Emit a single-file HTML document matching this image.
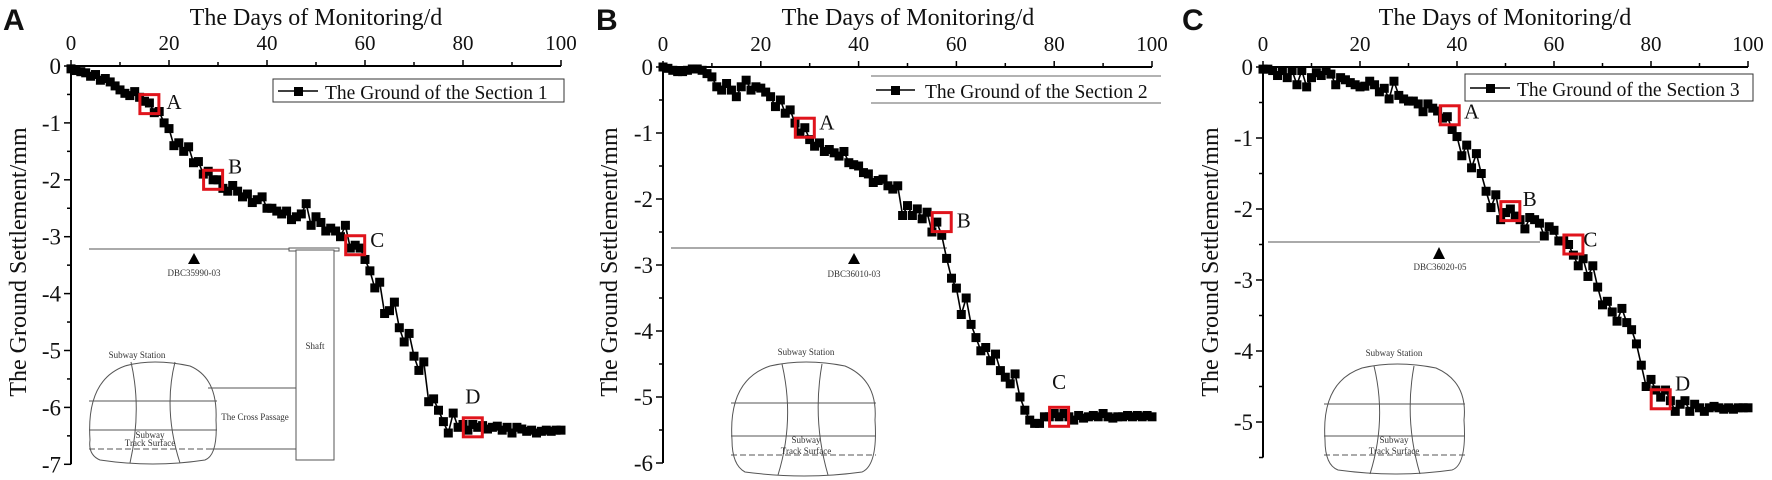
<!DOCTYPE html>
<html><head><meta charset="utf-8">
<style>
html,body{margin:0;padding:0;background:#fff;}
svg{display:block;}
text{font-family:"Liberation Serif",serif;fill:#111;}
.pl{font-family:"Liberation Sans",sans-serif;font-weight:bold;font-size:30px;}
.tt{font-size:24px;}
.sm{font-size:9px;fill:#333;}
</style></head><body>
<svg id="s" width="1772" height="480" viewBox="0 0 1772 480" xmlns="http://www.w3.org/2000/svg">
<text class="pl" x="3" y="30">A</text>
<text class="pl" x="596" y="30">B</text>
<text class="pl" x="1182" y="30">C</text>
<text class="tt" x="316" y="25" text-anchor="middle">The Days of Monitoring/d</text>
<text class="tt" x="908" y="25" text-anchor="middle">The Days of Monitoring/d</text>
<text class="tt" x="1505" y="25" text-anchor="middle">The Days of Monitoring/d</text>
<text class="tt" transform="translate(26,262) rotate(-90)" text-anchor="middle">The Ground Settlement/mm</text>
<text class="tt" transform="translate(617,262) rotate(-90)" text-anchor="middle">The Ground Settlement/mm</text>
<text class="tt" transform="translate(1218,262) rotate(-90)" text-anchor="middle">The Ground Settlement/mm</text>

<!-- legends -->
<rect x="273" y="79" width="291" height="23" fill="#fff" stroke="#333" stroke-width="1"/>
<line x1="278" y1="91" x2="318" y2="91" stroke="#000" stroke-width="1.5"/><rect x="294" y="87" width="9" height="9" fill="#000"/>
<text x="325" y="99" font-size="19.5">The Ground of the Section 1</text>
<line x1="871" y1="76" x2="1161" y2="76" stroke="#666"/><line x1="871" y1="103" x2="1161" y2="103" stroke="#666"/>
<line x1="876" y1="90" x2="915" y2="90" stroke="#000" stroke-width="1.5"/><rect x="891" y="86" width="9" height="9" fill="#000"/>
<text x="925" y="98" font-size="19.5">The Ground of the Section 2</text>
<rect x="1465" y="74" width="288" height="27" fill="#fff" stroke="#333" stroke-width="1"/>
<line x1="1470" y1="88" x2="1510" y2="88" stroke="#000" stroke-width="1.5"/><rect x="1486" y="84" width="9" height="9" fill="#000"/>
<text x="1517" y="96" font-size="19.5">The Ground of the Section 3</text>

<!-- inset A -->
<g stroke="#555" fill="none" stroke-width="1">
<line x1="89" y1="249" x2="339" y2="249"/>
<rect x="289" y="248" width="50" height="3" fill="#fff"/>
<rect x="296" y="250" width="38" height="210" fill="#fff"/>
<path d="M90 440 Q86 380 125 366 Q153 358 190 366 Q218 378 216 420 Q218 455 205 460 Q153 468 100 460 Q88 455 90 440Z"/>
<path d="M131 362 Q142 410 130 463 M175 362 Q163 410 180 463"/>
<line x1="89" y1="401" x2="217" y2="401"/><line x1="89" y1="430" x2="217" y2="430"/>
<line x1="89" y1="449" x2="217" y2="449" stroke-dasharray="6,3"/>
<line x1="208" y1="388" x2="296" y2="388"/><line x1="208" y1="449" x2="296" y2="449"/>
</g>
<polygon points="188,264 200,264 194,253" fill="#000"/>
<text class="sm" x="194" y="276" text-anchor="middle" font-size="10">DBC35990-03</text>
<text class="sm" x="137" y="358" text-anchor="middle" font-size="10">Subway Station</text>
<text class="sm" x="315" y="349" text-anchor="middle" font-size="10">Shaft</text>
<text class="sm" x="255" y="420" text-anchor="middle" font-size="10">The Cross Passage</text>
<text class="sm" x="150" y="438" text-anchor="middle" font-size="6">Subway</text>
<text class="sm" x="150" y="446" text-anchor="middle" font-size="6">Track Surface</text>

<!-- inset B -->
<g stroke="#555" fill="none" stroke-width="1">
<line x1="671" y1="248" x2="947" y2="248"/>
<path d="M732 440 Q728 380 770 366 Q805 358 845 366 Q878 380 875 420 Q878 465 862 472 Q805 480 745 472 Q732 465 732 440Z"/>
<path d="M782 364 Q795 420 778 475 M822 364 Q812 420 828 475"/>
<line x1="731" y1="403" x2="876" y2="403"/><line x1="731" y1="436" x2="876" y2="436"/>
<line x1="731" y1="455" x2="876" y2="455" stroke-dasharray="6,3"/>
</g>
<polygon points="848,264 860,264 854,253" fill="#000"/>
<text class="sm" x="854" y="277" text-anchor="middle" font-size="10">DBC36010-03</text>
<text class="sm" x="806" y="355" text-anchor="middle" font-size="11">Subway Station</text>
<text class="sm" x="806" y="443" text-anchor="middle" font-size="6">Subway</text>
<text class="sm" x="806" y="454" text-anchor="middle" font-size="6">Track Surface</text>

<!-- inset C -->
<g stroke="#555" fill="none" stroke-width="1">
<line x1="1268" y1="242" x2="1540" y2="242"/>
<path d="M1325 440 Q1321 382 1362 368 Q1396 360 1436 368 Q1468 382 1464 420 Q1467 465 1452 470 Q1396 478 1338 470 Q1325 465 1325 440Z"/>
<path d="M1374 366 Q1387 420 1370 474 M1414 366 Q1404 420 1420 474"/>
<line x1="1324" y1="404" x2="1465" y2="404"/><line x1="1324" y1="436" x2="1465" y2="436"/>
<line x1="1324" y1="455" x2="1465" y2="455" stroke-dasharray="6,3"/>
</g>
<polygon points="1433,259 1445,259 1439,247" fill="#000"/>
<text class="sm" x="1440" y="270" text-anchor="middle" font-size="10">DBC36020-05</text>
<text class="sm" x="1394" y="356" text-anchor="middle" font-size="11">Subway Station</text>
<text class="sm" x="1394" y="443" text-anchor="middle" font-size="6">Subway</text>
<text class="sm" x="1394" y="454" text-anchor="middle" font-size="6">Track Surface</text>
<g id="dyn"></g>
</svg>
<script>
var NS="http://www.w3.org/2000/svg",g=document.getElementById("dyn");
function el(t,a,txt){var e=document.createElementNS(NS,t);for(var k in a)e.setAttribute(k,a[k]);if(txt!=null)e.textContent=txt;g.appendChild(e);return e;}
var A=[-0.05,-0.08,-0.1,-0.12,-0.18,-0.15,-0.25,-0.22,-0.28,-0.35,-0.42,-0.48,-0.52,-0.45,-0.55,-0.62,-0.65,-0.82,-0.8,-1.0,-1.1,-1.4,-1.35,-1.5,-1.42,-1.7,-1.68,-1.9,-1.85,-2.0,-2.0,-2.15,-2.2,-2.1,-2.2,-2.3,-2.25,-2.4,-2.35,-2.3,-2.5,-2.5,-2.55,-2.6,-2.55,-2.7,-2.65,-2.6,-2.42,-2.8,-2.65,-2.75,-2.9,-2.85,-2.9,-3.0,-2.8,-3.2,-3.15,-3.2,-3.4,-3.6,-3.9,-3.8,-4.35,-4.3,-4.15,-4.6,-4.85,-4.7,-5.1,-5.35,-5.2,-5.9,-5.85,-6.05,-6.25,-6.45,-6.1,-6.35,-6.3,-6.4,-6.3,-6.35,-6.32,-6.38,-6.35,-6.33,-6.4,-6.35,-6.45,-6.35,-6.38,-6.42,-6.4,-6.45,-6.42,-6.4,-6.42,-6.4,-6.4];
var B=[0,-0.02,-0.05,-0.07,-0.07,-0.05,-0.03,-0.03,-0.05,-0.1,-0.15,-0.3,-0.35,-0.25,-0.35,-0.45,-0.3,-0.2,-0.35,-0.3,-0.32,-0.38,-0.45,-0.6,-0.5,-0.7,-0.65,-0.85,-1.0,-0.92,-1.1,-1.2,-1.15,-1.28,-1.25,-1.3,-1.35,-1.28,-1.45,-1.48,-1.5,-1.6,-1.62,-1.75,-1.72,-1.7,-1.8,-1.85,-1.8,-2.25,-2.1,-2.25,-2.15,-2.3,-2.2,-2.5,-2.35,-2.55,-2.9,-3.2,-3.35,-3.75,-3.5,-3.9,-4.1,-4.3,-4.25,-4.45,-4.35,-4.6,-4.7,-4.8,-4.65,-5.0,-5.2,-5.35,-5.4,-5.4,-5.3,-5.3,-5.25,-5.3,-5.25,-5.3,-5.35,-5.28,-5.32,-5.3,-5.28,-5.3,-5.25,-5.3,-5.32,-5.3,-5.3,-5.28,-5.3,-5.28,-5.3,-5.28,-5.3];
var C=[-0.03,-0.03,-0.05,-0.12,-0.05,-0.15,-0.05,-0.25,-0.05,-0.28,-0.15,-0.08,-0.12,-0.05,-0.1,-0.25,-0.15,-0.18,-0.22,-0.25,-0.28,-0.27,-0.2,-0.25,-0.35,-0.3,-0.45,-0.2,-0.4,-0.45,-0.48,-0.48,-0.52,-0.63,-0.52,-0.58,-0.62,-0.72,-0.7,-0.88,-0.98,-1.25,-1.1,-1.42,-1.22,-1.5,-1.75,-1.98,-1.8,-2.15,-2.05,-2.0,-2.1,-2.15,-2.28,-2.12,-2.15,-2.2,-2.38,-2.25,-2.3,-2.45,-2.45,-2.5,-2.65,-2.8,-2.7,-2.95,-2.8,-3.1,-3.35,-3.3,-3.45,-3.58,-3.4,-3.6,-3.7,-3.9,-4.2,-4.5,-4.4,-4.55,-4.65,-4.55,-4.7,-4.85,-4.75,-4.7,-4.85,-4.75,-4.8,-4.85,-4.8,-4.78,-4.8,-4.82,-4.8,-4.82,-4.8,-4.8,-4.8];
var P=[
 {x0:71,x1:561,y0:66,u:56.9,ymin:-7,d:A,boxes:[[16,-0.67,"A",5,-0.05],[29,-2.0,"B",4.5,0.15],[58,-3.15,"C",4.5,0],[82,-6.35,"D",0,0.45]]},
 {x0:663,x1:1152,y0:67,u:66,ymin:-6,d:B,boxes:[[29,-0.92,"A",4.5,0],[57,-2.35,"B",4.5,-0.05],[81,-5.3,"C",0,0.45]]},
 {x0:1263,x1:1748,y0:67,u:71,ymin:-5.5,d:C,boxes:[[38.5,-0.68,"A",4.5,-0.02],[51,-2.03,"B",4,0.1],[64,-2.5,"C",3.5,0],[82,-4.68,"D",4.5,0.15]]}
];
P.forEach(function(p){
 var X=function(d){return p.x0+(p.x1-p.x0)*d/100;},Y=function(v){return p.y0-v*p.u;};
 var yb=Y(p.ymin);
 el("line",{x1:p.x0,y1:p.y0,x2:p.x1,y2:p.y0,stroke:"#000","stroke-width":2});
 el("line",{x1:p.x0,y1:p.y0,x2:p.x0,y2:yb,stroke:"#000","stroke-width":2});
 for(var d=0;d<=100;d+=10){var big=d%20==0;el("line",{x1:X(d),y1:p.y0,x2:X(d),y2:p.y0-(big?6:4),stroke:"#000","stroke-width":1.5});
  if(big)el("text",{x:X(d),y:p.y0-16,"text-anchor":"middle","font-size":"21"},String(d));}
 for(var v=0;v>=p.ymin-0.001;v-=0.5){var big=Math.abs(v-Math.round(v))<0.01;el("line",{x1:p.x0,y1:Y(v),x2:p.x0-(big?7:4),y2:Y(v),stroke:"#000","stroke-width":1.5});
  if(big)el("text",{x:p.x0-10,y:Y(v)+8,"text-anchor":"end","font-size":"23"},Math.round(v)==0?"0":String(Math.round(v)));}
 var pts=p.d.map(function(v,i){return X(i)+","+Y(v);}).join(" ");
 el("polyline",{points:pts,fill:"none",stroke:"#000","stroke-width":1.6});
 p.d.forEach(function(v,i){el("rect",{x:X(i)-4.5,y:Y(v)-4.5,width:9,height:9,fill:"#000"});});
 p.boxes.forEach(function(b){el("rect",{x:X(b[0])-9.5,y:Y(b[1])-9.5,width:19,height:19,fill:"none",stroke:"#e0141c","stroke-width":3});
  el("text",{x:X(b[0]+b[3]),y:Y(b[1]+b[4])+2,"text-anchor":"middle","font-size":"21"},b[2]);});
});
</script>
</body></html>
